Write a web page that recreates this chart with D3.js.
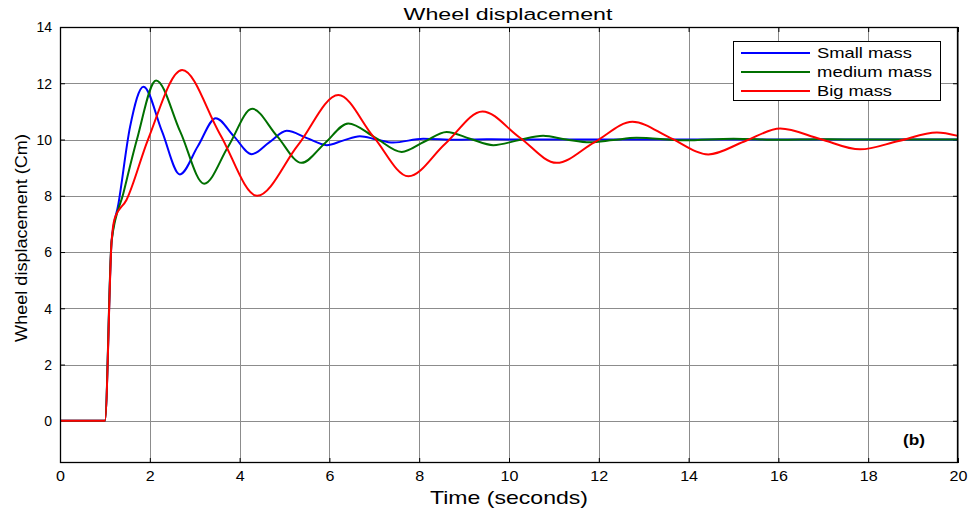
<!DOCTYPE html>
<html><head><meta charset="utf-8">
<script src="https://cdn.jsdelivr.net/npm/d3@7"></script>
<style>body{margin:0;background:#fff}svg{display:block}text{font-family:"Liberation Sans",Arial,sans-serif}</style>
</head><body>
<svg id="c" width="971" height="513"></svg>
<script>
// ---- data ----
const xTicks = [0,2,4,6,8,10,12,14,16,18,20];
const yTicks = [0,2,4,6,8,10,12,14];
const seriesNames = ["Small mass","medium mass","Big mass"];
const seriesColors = ["#0000ff","#007000","#ff0000"];

const smallT = [0,1.0,1.15,1.3,1.56,1.86,2.27,2.67,3.07,3.47,3.87,4.27,4.66,5.05,5.5,5.94,6.3,6.68,7.05,7.42,8.09,8.8,9.5,10.5,12,14,16,18,20];
const smallV = [0,0,6.4,7.7,10.45,11.88,10.3,8.76,9.76,10.76,10.12,9.48,9.9,10.31,10.05,9.8,9.96,10.12,10.0,9.89,10.03,9.99,10.01,10,10,10,10,10,10];

const mediumT = [0,1.0,1.15,1.41,1.71,2.14,2.68,3.21,3.75,4.28,4.83,5.38,5.9,6.42,7.02,7.61,8.11,8.61,9.13,9.65,10.2,10.76,11.28,11.8,12.32,12.84,13.9,15,16,17,18,20];
const mediumV = [0,0,6.4,8.08,9.98,12.1,10.27,8.43,9.76,11.09,10.13,9.17,9.87,10.57,10.07,9.56,9.92,10.27,10.03,9.80,9.97,10.13,10.0,9.9,9.98,10.06,9.97,10.03,9.99,10.01,10,10];

const bigT = [0,1.0,1.15,1.22,1.48,1.96,2.72,3.56,4.39,5.3,6.2,6.98,7.76,8.58,9.41,10.23,11.06,11.9,12.75,13.6,14.44,15.24,16.04,16.93,17.82,18.68,19.53,20];
const bigV = [0,0,6.4,7.2,7.85,10.0,12.47,10.2,8.0,9.8,11.58,10.1,8.69,9.85,11.0,10.08,9.17,9.9,10.63,10.05,9.47,9.93,10.39,10.02,9.65,9.95,10.25,10.13];

// ---- layout ----
const L = 60, R = 958, T = 27, B = 463;
const svg = d3.select("#c");
const x = d3.scaleLinear().domain([0,20]).range([L,R]);
const y = d3.scaleLinear().domain([-1.5,14]).range([B,T]);

// text stretched horizontally to a target width (the original image is widened)
function txt(g, px, py, s, opts) {
  const t = g.append("text").attr("x",0).attr("y",0).text(s)
    .attr("font-size", opts.size)
    .attr("text-anchor", opts.anchor || "start");
  if (opts.weight) t.attr("font-weight", opts.weight);
  if (opts.family) t.attr("font-family", opts.family);
  const w = t.node().getComputedTextLength();
  const sx = opts.width ? opts.width / w : 1;
  t.attr("transform", `translate(${px},${py}) ${opts.rot ? "rotate("+opts.rot+")" : ""} scale(${sx},1)`);
  return t;
}

// grid
const grid = svg.append("g").attr("stroke","#8c8c8c").attr("stroke-width",1);
xTicks.forEach(v => grid.append("line").attr("x1",Math.round(x(v))+0.5).attr("x2",Math.round(x(v))+0.5).attr("y1",T).attr("y2",B));
yTicks.forEach(v => grid.append("line").attr("y1",Math.round(y(v))+0.5).attr("y2",Math.round(y(v))+0.5).attr("x1",L).attr("x2",R));

// axes via d3
const xAx = svg.append("g").attr("transform",`translate(0,${B})`)
  .call(d3.axisBottom(x).tickValues(xTicks).tickSize(-5).tickPadding(8).tickFormat(d3.format("d")));
const yAx = svg.append("g").attr("transform",`translate(${L},0)`)
  .call(d3.axisLeft(y).tickValues(yTicks).tickSize(-5).tickPadding(8).tickFormat(d3.format("d")));
svg.append("g").attr("transform",`translate(0,${T})`)
  .call(d3.axisTop(x).tickValues(xTicks).tickSize(-5).tickFormat(""));
svg.append("g").attr("transform",`translate(${R},0)`)
  .call(d3.axisRight(y).tickValues(yTicks).tickSize(-5).tickFormat(""));
svg.selectAll(".domain").remove();
svg.selectAll(".tick line").attr("stroke","#000");
[xAx,yAx].forEach(a => a.selectAll("text").attr("font-size",14).attr("fill","#000")
  .attr("font-family","'Liberation Sans',Arial,sans-serif"));
xAx.selectAll("text").attr("transform","scale(1.15,1)");
yAx.selectAll("text").attr("dy","0.35em");

// series lines
const line = d3.line().x(d=>x(d[0])).y(d=>y(d[1])).curve(d3.curveMonotoneX);
const series = [[smallT,smallV],[mediumT,mediumV],[bigT,bigV]];
series.forEach((s,i) => {
  const pts = s[0].map((t,k)=>[t,s[1][k]]);
  svg.append("path").attr("d",line(pts)).attr("fill","none")
    .attr("stroke",seriesColors[i]).attr("stroke-width",2).attr("stroke-linejoin","round");
});

// frame
svg.append("rect").attr("x",L+0.5).attr("y",T+0.5).attr("width",R-L-1).attr("height",B-T-1)
  .attr("fill","none").attr("stroke","#000").attr("stroke-width",1.3);

// legend
const legendWidths = [95,115,75];
const lg = svg.append("g");
lg.append("rect").attr("x",733.5).attr("y",41.5).attr("width",207).attr("height",59)
  .attr("fill","#fff").attr("stroke","#000").attr("stroke-width",1);
seriesNames.forEach((n,i) => {
  const yy = 53 + i*19;
  lg.append("line").attr("x1",741).attr("x2",810).attr("y1",yy).attr("y2",yy)
    .attr("stroke",seriesColors[i]).attr("stroke-width",2);
  txt(lg, 817, yy+5, n, {size:14, width:legendWidths[i]});
});

// titles
txt(svg, 508, 20, "Wheel displacement", {size:16.5, anchor:"middle", width:209});
txt(svg, 509, 504, "Time (seconds)", {size:18, anchor:"middle", width:158});
txt(svg, 27, 238, "Wheel displacement (Cm)", {size:17, anchor:"middle", rot:-90, width:208});
txt(svg, 914, 445, "(b)", {size:15, anchor:"middle", weight:"bold", family:"'Liberation Serif','Times New Roman',serif", width:22});
</script>
</body></html>
